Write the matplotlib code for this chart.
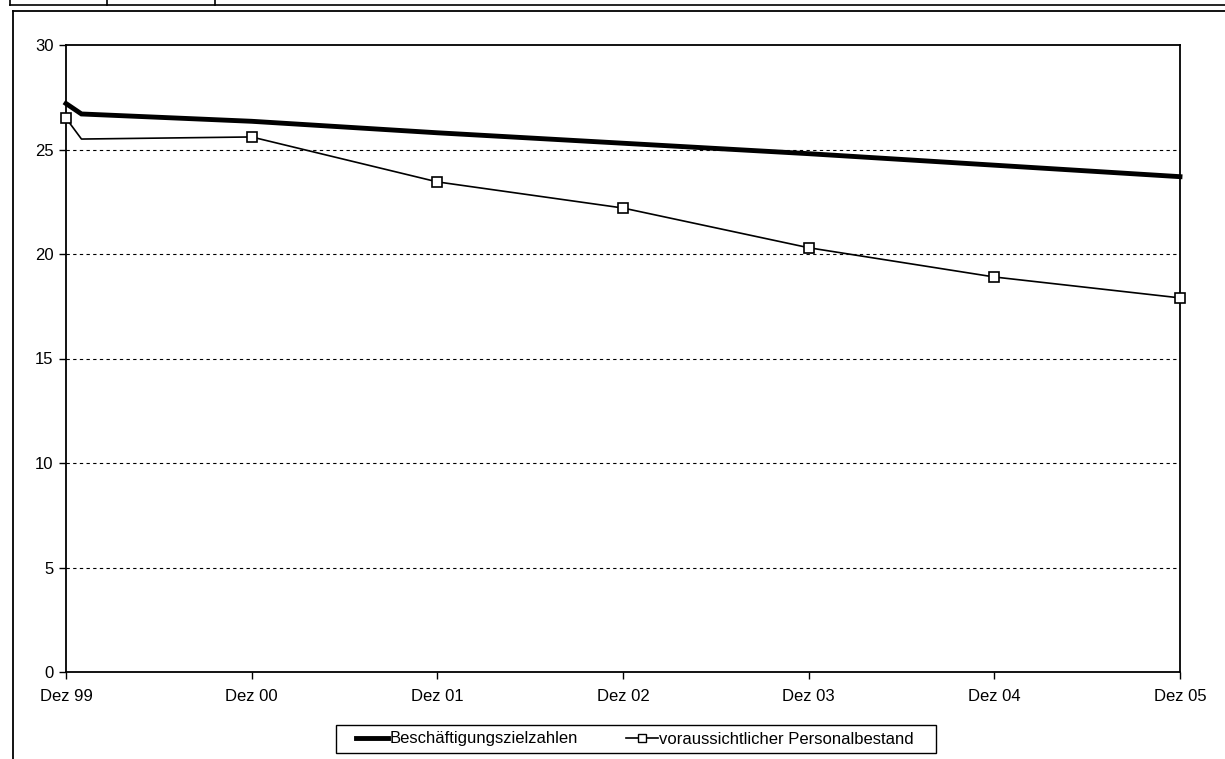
import matplotlib.pyplot as plt
from matplotlib.lines import Line2D
from matplotlib.patches import Rectangle

plt.rcParams['font.family'] = ['Liberation Sans', 'DejaVu Sans']

# months since Dez 99
months = [0, 1, 12, 24, 36, 48, 60, 72]
tick_months = [0, 12, 24, 36, 48, 60, 72]
tick_labels = ["Dez 99", "Dez 00", "Dez 01", "Dez 02", "Dez 03", "Dez 04", "Dez 05"]

zielzahlen = [27.2, 26.7, 26.35, 25.8, 25.3, 24.8, 24.25, 23.7]
personalbestand = [26.5, 25.5, 25.6, 23.45, 22.2, 20.3, 18.9, 17.9]

W, H = 1225, 759
fig = plt.figure(figsize=(W / 100, H / 100), dpi=100)
ax = fig.add_axes([66 / W, 1 - 672 / H, 1114 / W, 627 / H])

ax.plot(months, zielzahlen, color='black', linewidth=3.5, solid_joinstyle='miter',
        label="Beschäftigungszielzahlen", zorder=3, clip_on=False)
ax.plot(months, personalbestand, color='black', linewidth=1.2,
        marker='s', markersize=7, markerfacecolor='white', markeredgecolor='black',
        markeredgewidth=1.2, markevery=[0, 2, 3, 4, 5, 6, 7],
        label="voraussichtlicher Personalbestand", zorder=4, clip_on=False)

ax.set_xlim(0, 72)
ax.set_ylim(0, 30)
ax.set_yticks([0, 5, 10, 15, 20, 25, 30])
ax.set_xticks(tick_months, tick_labels)
ax.tick_params(axis='both', direction='out', length=5, width=1, color='black',
               labelsize=12, pad=4)
ax.tick_params(axis='x', pad=7)

for y in [5, 10, 15, 20, 25]:
    ax.axhline(y, color='black', linewidth=0.8, linestyle=(0, (3, 3)), zorder=1)

for side in ax.spines.values():
    side.set_color('black')
    side.set_linewidth(1.3)

# legend box drawn separately, it is wider than the legend entries
fig.add_artist(Rectangle((336 / W, 1 - 753 / H), 600 / W, 28 / H, transform=fig.transFigure,
                         facecolor='white', edgecolor='black', linewidth=1.0))
handles = [
    Line2D([], [], color='black', linewidth=3.5),
    Line2D([], [], color='black', linewidth=1.2, marker='s', markersize=6,
           markerfacecolor='white', markeredgecolor='black'),
]
fig.legend(handles, ["Beschäftigungszielzahlen", "voraussichtlicher Personalbestand"],
           loc='center', bbox_to_anchor=(635 / W, 1 - 739 / H), ncol=2,
           fontsize=12, frameon=False, handlelength=1.9, handletextpad=0.1,
           columnspacing=2.9, borderpad=0, borderaxespad=0)

# outer chart border and the table rule above it
fig.add_artist(Line2D([13 / W, 13 / W], [0, 1 - 11 / H], color='black', linewidth=1.3))
fig.add_artist(Line2D([13 / W, 1], [1 - 11 / H, 1 - 11 / H], color='black', linewidth=1.3))
fig.add_artist(Line2D([10 / W, 1], [1 - 5 / H, 1 - 5 / H], color='black', linewidth=1.2))
for x in [10, 107, 215]:
    fig.add_artist(Line2D([x / W, x / W], [1 - 5 / H, 1], color='black', linewidth=1.2))

fig.savefig("out.png", dpi=100, facecolor='white')
